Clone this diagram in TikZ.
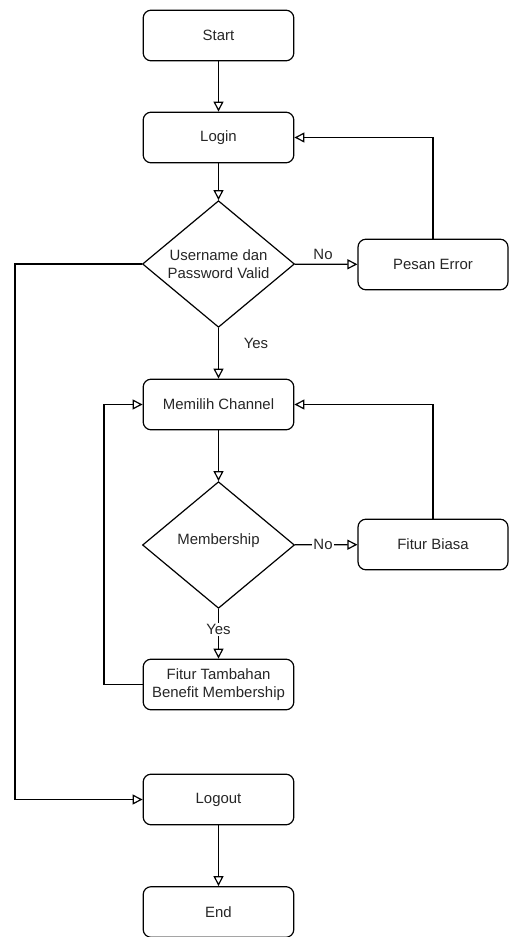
\documentclass[tikz,border=0pt]{standalone}
\usepackage{fontspec}
\setmainfont{Liberation Sans}
\usetikzlibrary{shapes.geometric,arrows.meta}
\begin{document}
\begin{tikzpicture}[x=0.75pt,y=-0.75pt,
  every node/.style={font=\fontsize{11.2}{13.5}\selectfont, text=black!85},
  box/.style={draw, rounded corners=6pt, line width=0.9pt, minimum width=113pt, minimum height=38pt, inner sep=0pt, align=center},
  dec/.style={draw, diamond, line width=0.9pt, minimum width=114pt, minimum height=95pt, inner sep=0pt},
  lbl/.style={align=center, inner sep=1pt},
  conn/.style={line width=0.9pt, -{Triangle[open, length=7.5pt, width=7.5pt]}},
  onl/.style={fill=white, inner sep=1pt}]
\useasboundingbox (0,0) rectangle (509,937);
\node[box] (start) at (218.5,35.5) {Start};
\node[box] (login) at (218.5,137.5) {Login};
\node[dec] (d1) at (218.5,264) {};
\node[lbl] (d1t) at (218.5,264) {Username dan\\Password Valid};
\node[box, minimum width=112.5pt] (err) at (433,264.5) {Pesan Error};
\node[box] (mem) at (218.5,404.5) {Memilih Channel};
\node[dec] (d2) at (218.5,545) {};
\node[lbl] (d2t) at (218.5,541) {Membership};
\node[box, minimum width=112.5pt] (fb) at (433,544.5) {Fitur Biasa};
\node[box] (ft) at (218.5,684.5) {Fitur Tambahan\\Benefit Membership};
\node[box] (logout) at (218.5,799.5) {Logout};
\node[box] (end) at (218.5,912) {End};
\coordinate (l1a) at (15,264);
\coordinate (l1b) at (15,799.5);
\coordinate (l2a) at (104,684.5);
\coordinate (l2b) at (104,404.5);

\draw[conn] (start) -- (login);
\draw[conn] (login) -- (d1);
\draw[conn] (d1) -- node[lbl, above, pos=0.45, yshift=2pt] (no1) {No} (err);
\draw[conn] (err.north) |- (login.east);
\draw[conn] (d1) -- (mem);
\node[lbl] (yes1) at (256,343) {Yes};
\draw[conn] (d1.west) -- (l1a) -- (l1b) -- (logout.west);
\draw[conn] (mem) -- (d2);
\draw[conn] (d2) -- node[onl, pos=0.45] (no2) {No} (fb);
\draw[conn] (fb.north) |- (mem.east);
\draw[conn] (d2) -- node[onl, pos=0.42] (yes2) {Yes} (ft);
\draw[conn] (ft.west) -- (l2a) -- (l2b) -- (mem.west);
\draw[conn] (logout) -- (end);
\end{tikzpicture}
\end{document}
